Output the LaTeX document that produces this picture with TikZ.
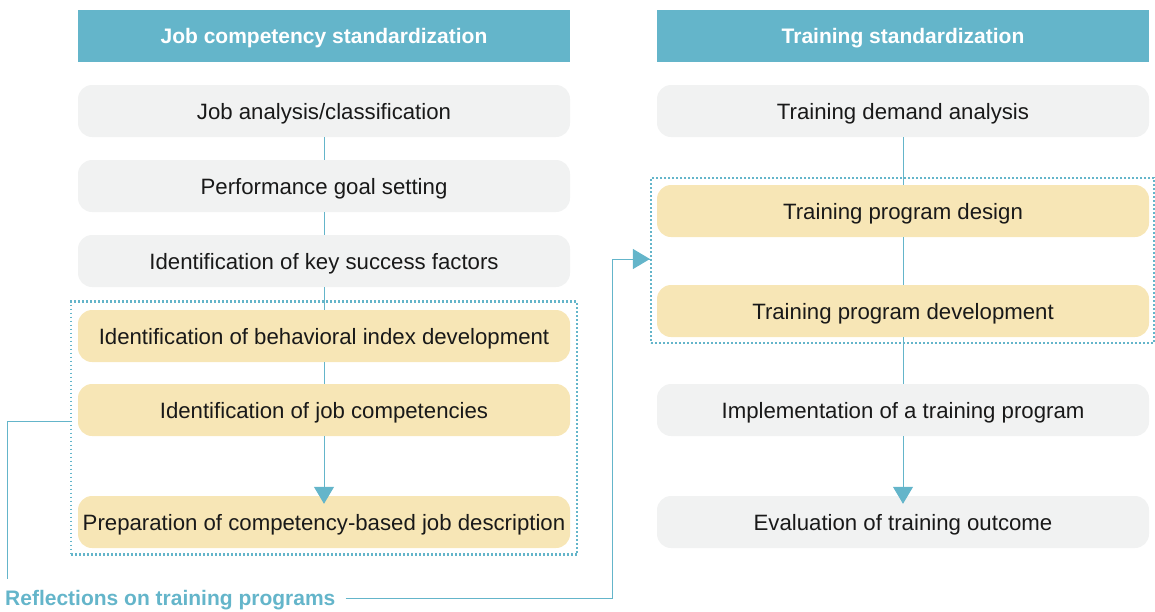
\documentclass[tikz,border=0pt]{standalone}
\usepackage{fontspec}
\setmainfont{Liberation Sans}
\usetikzlibrary{arrows.meta}
\definecolor{teal}{HTML}{64B5CA}
\definecolor{graybox}{HTML}{F1F2F2}
\definecolor{yellowbox}{HTML}{F7E6B6}
\tikzset{
  hdr/.style={fill=teal, minimum width=492pt, minimum height=52pt, inner sep=0pt, text height=15pt, text depth=0pt, text=white, font=\fontsize{21}{24}\selectfont\bfseries},
  gbox/.style={fill=graybox, rounded corners=14pt, minimum width=492pt, minimum height=52pt, inner sep=0pt, text height=16pt, text depth=0pt, text=black!90, font=\fontsize{22.2}{26}\selectfont},
  ybox/.style={gbox, fill=yellowbox},
  conn/.style={draw=teal, line width=1pt},
  arr/.style={conn, -{Triangle[width=20pt,length=17pt]}},
  dotbox/.style={draw=teal, line width=2.2pt, dash pattern=on 1.8pt off 2.2pt},
}
\begin{document}
\begin{tikzpicture}[x=1pt,y=-1pt]
\useasboundingbox (0,0) rectangle (1155,611);
% headers
\node[hdr] (h1) at (324,36) {Job competency standardization};
\node[hdr] (h2) at (903,36) {Training standardization};
% left column
\node[gbox] (a1) at (324,111) {Job analysis/classification};
\node[gbox] (a2) at (324,186) {Performance goal setting};
\node[gbox] (a3) at (324,261) {Identification of key success factors};
\node[ybox] (a4) at (324,336) {Identification of behavioral index development};
\node[ybox] (a5) at (324,410) {Identification of job competencies};
\node[ybox] (a6) at (324,522) {Preparation of competency-based job description};
% right column
\node[gbox] (b1) at (903,111) {Training demand analysis};
\node[ybox] (b2) at (903,211) {Training program design};
\node[ybox] (b3) at (903,311) {Training program development};
\node[gbox] (b4) at (903,410) {Implementation of a training program};
\node[gbox] (b5) at (903,522) {Evaluation of training outcome};
% dotted groups
\node[dotbox, minimum width=506pt, minimum height=253pt, inner sep=0pt] (g1) at (324,428) {};
\node[dotbox, minimum width=503pt, minimum height=165pt, inner sep=0pt] (g2) at (902.5,260.5) {};
% connectors
\draw[conn] (a1.south) -- (a2.north);
\draw[conn] (a2.south) -- (a3.north);
\draw[conn] (a3.south) -- (a4.north);
\draw[conn] (a4.south) -- (a5.north);
\draw[arr] (a5.south) -- ([yshift=-8pt]a6.north);
\draw[conn] (b1.south) -- (b2.north);
\draw[conn] (b2.south) -- (b3.north);
\draw[conn] (b3.south) -- (b4.north);
\draw[arr] (b4.south) -- ([yshift=-8pt]b5.north);
% feedback
\node[anchor=base west, inner sep=0pt, text=teal, font=\fontsize{21}{24}\selectfont\bfseries] (fb) at (5,605) {Reflections on training programs};
\coordinate (c1) at (7,421);
\coordinate (c2) at (612,598);
\draw[conn] (g1.west |- c1) -- (c1) -- (7,579);
\draw[conn] ([xshift=10pt]fb.east |- c2) -- (c2) -- (612,259) -- (651,259);
\draw[arr] (612,259) -- (g2.west |- 0,259);
\end{tikzpicture}
\end{document}
